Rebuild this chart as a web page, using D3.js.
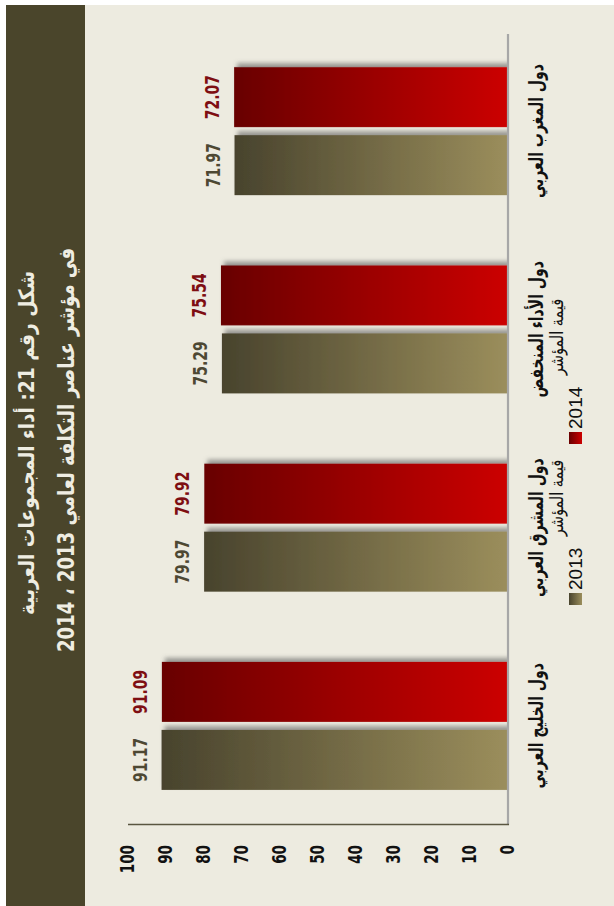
<!DOCTYPE html>
<html>
<head>
<meta charset="utf-8">
<script src="https://cdn.jsdelivr.net/npm/d3@7"></script>
<style>
  html, body { margin: 0; padding: 0; background: #ffffff; }
  svg { display: block; }
</style>
</head>
<body>
<svg id="chart" width="614" height="906"></svg>
<script>
// ---- data ----
const categories = ["دول الخليج العربي", "دول المشرق العربي", "دول الأداء المنخفض", "دول المغرب العربي"];
const years = ["2013", "2014"];
const values2013 = [91.17, 79.97, 75.29, 71.97];
const values2014 = [91.09, 79.92, 75.54, 72.07];
const tickValues = [0, 10, 20, 30, 40, 50, 60, 70, 80, 90, 100];
const titleLines = ["شكل رقم 21:  أداء المجموعات العربية", "في مؤشر عناصر التكلفة لعامي 2013 ، 2014"];
const legendText = "قيمة المؤشر";

// ---- layout (drawn as an upright column chart, then turned on its side) ----
const W = 906, H = 614;          // size of the upright frame
const svg = d3.select("#chart");
const defs = svg.append("defs");

const palette = {
  "2013": { dark: "#48432d", light: "#9b8e5c", text: "#4d4833" },
  "2014": { dark: "#680000", light: "#cc0000", text: "#7e0e12" }
};
years.forEach(yr => {
  const g = defs.append("linearGradient").attr("id", "grad" + yr)
    .attr("x1", 0).attr("y1", 0).attr("x2", 0).attr("y2", 1);
  g.append("stop").attr("offset", "0%").attr("stop-color", palette[yr].dark);
  g.append("stop").attr("offset", "100%").attr("stop-color", palette[yr].light);
});
const shadow = defs.append("filter").attr("id", "shadow")
  .attr("x", "-20%").attr("y", "-20%").attr("width", "140%").attr("height", "140%");
shadow.append("feDropShadow").attr("dx", 4).attr("dy", 3).attr("stdDeviation", 2.2)
  .attr("flood-color", "#555555").attr("flood-opacity", 0.55);

const frame = svg.append("g").attr("transform", `translate(0,${W}) rotate(-90)`);

// background and title panel
frame.append("rect").attr("x", 0).attr("y", 6).attr("width", 901).attr("height", H - 6).attr("fill", "#edebe0");
frame.append("rect").attr("x", 0).attr("y", 6).attr("width", 901).attr("height", 79).attr("fill", "#4a452b");

const titleCfg = [
  { cx: 463, base: 34, size: 17, len: 344 },
  { cx: 456, base: 74, size: 18, len: 404 }
];
titleLines.forEach((t, i) => {
  frame.append("text")
    .attr("transform", `translate(${titleCfg[i].cx},${titleCfg[i].base}) scale(1,1.25)`)
    .attr("direction", "rtl")
    .attr("text-anchor", "middle")
    .attr("font-family", "DejaVu Sans, sans-serif")
    .attr("font-weight", "bold")
    .attr("font-size", titleCfg[i].size)
    .attr("fill", "#efede2")
    .attr("textLength", titleCfg[i].len)
    .attr("lengthAdjust", "spacingAndGlyphs")
    .text(t);
});

// scales
const x0 = d3.scaleBand().domain(categories).range([81, 874]).paddingInner(0.354).paddingOuter(0.177);
const x1 = d3.scaleBand().domain(years).range([0, x0.bandwidth()]).paddingInner(0.1176);
const y = d3.scaleLinear().domain([0, 100]).range([508, 128]);

const rows = categories.map((c, i) => ({ cat: c, vals: [
  { yr: "2013", v: values2013[i] },
  { yr: "2014", v: values2014[i] }
]}));

// bars
frame.append("clipPath").attr("id", "plotClip")
  .append("rect").attr("x", 0).attr("y", 0).attr("width", W).attr("height", 508);
const barLayer = frame.append("g").attr("clip-path", "url(#plotClip)");
const groups = barLayer.selectAll("g.grp").data(rows).join("g")
  .attr("class", "grp").attr("transform", d => `translate(${x0(d.cat)},0)`);
groups.selectAll("rect").data(d => d.vals).join("rect")
  .attr("x", d => x1(d.yr))
  .attr("y", d => y(d.v))
  .attr("width", x1.bandwidth())
  .attr("height", d => y(0) - y(d.v))
  .attr("fill", d => `url(#grad${d.yr})`)
  .attr("filter", "url(#shadow)");

// value labels
const labelLayer = frame.append("g");
rows.forEach(r => {
  r.vals.forEach(d => {
    labelLayer.append("text")
      .attr("transform", `translate(${x0(r.cat) + x1(d.yr) + x1.bandwidth() / 2},${y(d.v) - 15}) scale(1,1.45)`)
      .attr("text-anchor", "middle")
      .attr("font-family", "DejaVu Sans, sans-serif")
      .attr("font-weight", "bold")
      .attr("font-size", 14)
      .attr("fill", palette[d.yr].text)
      .text(d.v.toFixed(2));
  });
});

// axis lines
frame.append("line").attr("x1", 81).attr("x2", 872).attr("y1", 508).attr("y2", 508)
  .attr("stroke", "#a7a7a7").attr("stroke-width", 2.2);
frame.append("line").attr("x1", 81.5).attr("x2", 81.5).attr("y1", 128).attr("y2", 509)
  .attr("stroke", "#5a5640").attr("stroke-width", 1.6);

// value-axis tick labels
frame.append("g").selectAll("text").data(tickValues).join("text")
  .attr("transform", d => `translate(61,${y(d)}) scale(1,1.43)`)
  .attr("text-anchor", "end")
  .attr("dominant-baseline", "central")
  .attr("font-family", "DejaVu Sans, sans-serif")
  .attr("font-weight", "bold")
  .attr("font-size", 13.5)
  .attr("fill", "#111111")
  .text(d => d);

// category labels
frame.append("g").selectAll("text").data(categories).join("text")
  .attr("transform", d => `translate(${x0(d) + x0.bandwidth() / 2},543) scale(1,1.4)`)
  .attr("direction", "rtl")
  .attr("text-anchor", "middle")
  .attr("font-family", "DejaVu Sans, sans-serif")
  .attr("font-weight", "bold")
  .attr("font-size", 14)
  .attr("fill", "#111111")
  .text(d => d);

// legend
const legendPos = { "2013": 301, "2014": 462 };
years.forEach(yr => {
  const lx = legendPos[yr];
  frame.append("rect").attr("x", lx).attr("y", 569).attr("width", 12).attr("height", 13)
    .attr("fill", `url(#grad${yr})`);
  frame.append("text")
    .attr("x", lx + 15).attr("y", 582)
    .attr("font-family", "Liberation Sans, Arial, sans-serif")
    .attr("font-size", 19)
    .attr("fill", "#111111")
    .text(yr);
  frame.append("text")
    .attr("transform", `translate(${lx + 107},563) scale(1,1.25)`)
    .attr("direction", "rtl")
    .attr("text-anchor", "middle")
    .attr("font-family", "DejaVu Sans, sans-serif")
    .attr("font-size", 14.5)
    .attr("fill", "#111111")
    .text(legendText);
});
</script>
</body>
</html>
